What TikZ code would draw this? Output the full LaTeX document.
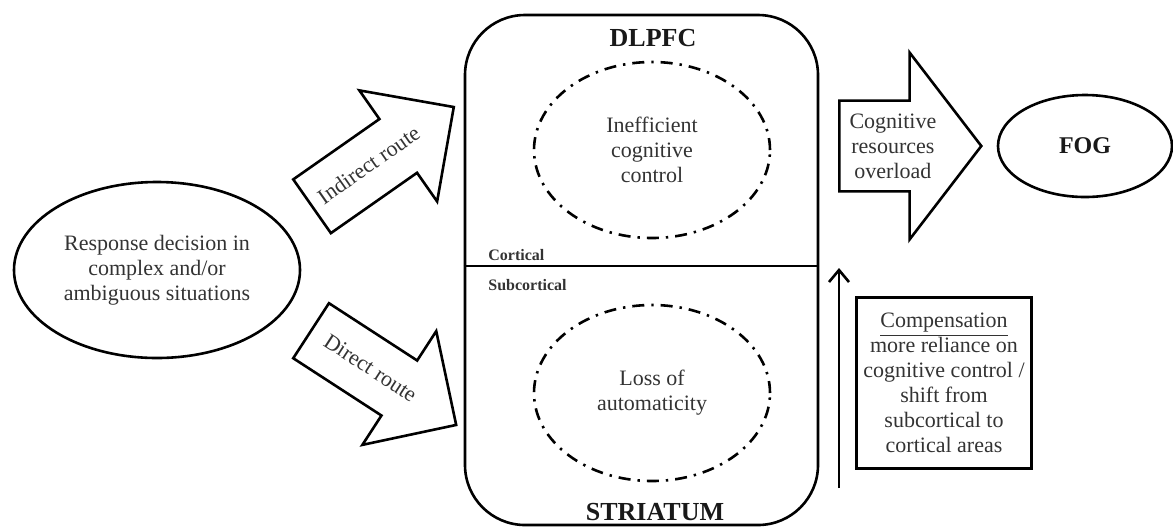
\documentclass[tikz,border=0pt]{standalone}
\usepackage{fontspec}
\setmainfont{Liberation Serif}
\usetikzlibrary{shapes.geometric,shapes.arrows,arrows.meta}

\begin{document}
\begin{tikzpicture}[x=0.5pt,y=-0.5pt,
    every node/.style={font=\fontsize{11}{12.5}\selectfont, align=center, text=black!80},
    outline/.style={draw=black, line width=1.3pt},
    routearrow/.style={outline, single arrow, minimum height=86.5pt, minimum width=66.5pt,
        text height=8pt, text depth=2pt, inner xsep=2pt, inner ysep=10.75pt,
        single arrow head extend=17.5pt, single arrow tip angle=90, anchor=tail},
    dashdot/.style={ellipse, draw=black, line width=1.3pt,
        dash pattern=on 6pt off 3.5pt on 1.2pt off 3.5pt, minimum width=118pt, minimum height=88pt},
    regiontitle/.style={font=\fontsize{13}{15}\selectfont\bfseries, text=black!90},
    arealabel/.style={font=\fontsize{8}{9}\selectfont\bfseries, anchor=west, inner sep=0pt}]
    \useasboundingbox (0,0) rectangle (1173,527);
    % decision
    \node[outline, ellipse, minimum width=143pt, minimum height=88pt] (decision) at (157,270)
        {Response decision in\\complex and/or\\ambiguous situations};
    % routes
    \node[routearrow, rotate=35] (indirect) at (311,207) {Indirect route};
    \node[routearrow, rotate=-33] (direct) at (310,330) {Direct route};
    % cortical / subcortical box
    \node[outline, rectangle, rounded corners=30pt, minimum width=176.5pt, minimum height=255pt]
        (brain) at (641.5,270) {};
    \draw[line width=1.3pt] (brain.west |- 0,266) -- (brain.east |- 0,266);
    \node[regiontitle] (dlpfc) at (653,38) {DLPFC};
    \node[regiontitle] (striatum) at (655,512) {STRIATUM};
    \node[arealabel] (cortical) at (488,255) {Cortical};
    \node[arealabel] (subcortical) at (488,285) {Subcortical};
    \node[dashdot] (control) at (652,150) {Inefficient\\cognitive\\control};
    \node[dashdot] (automatic) at (652,393) {Loss of\\automaticity};
    % overload and FOG
    \node[outline, single arrow, minimum height=71pt, minimum width=93.5pt,
        single arrow head extend=23.75pt, single arrow tip angle=105, inner xsep=2pt, inner ysep=5.5pt,
        anchor=tail] (overload) at (838,146) {Cognitive\\resources\\overload};
    \node[outline, ellipse, minimum width=87pt, minimum height=51pt,
        font=\fontsize{12}{14}\selectfont\bfseries, text=black!90] (fog) at (1085,146) {FOG};
    % compensation
    \coordinate (shiftlow) at (839,488);
    \coordinate (shifthigh) at (839,268);
    \draw[line width=1.3pt, -{Straight Barb[length=6pt,width=10pt]}] (shiftlow) -- (shifthigh);
    \node[outline, rectangle, minimum width=86pt, minimum height=85.5pt] (compensation) at (944,383)
        {\underline{Compensation}\\more reliance on\\cognitive control /\\shift from\\subcortical to\\cortical areas};
\end{tikzpicture}
\end{document}
